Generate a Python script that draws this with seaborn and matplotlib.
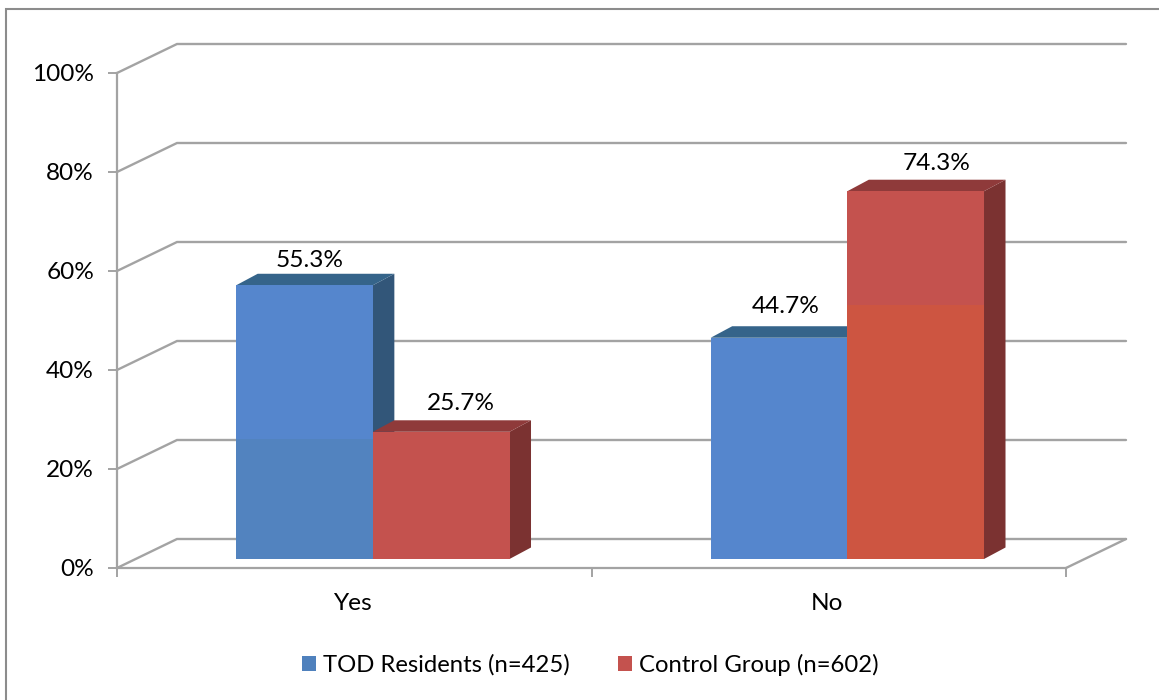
import matplotlib
matplotlib.use('Agg')
import matplotlib.pyplot as plt
from matplotlib.patches import Polygon, Rectangle
import numpy as np
import pandas as pd
import seaborn as sns

categories = ['Yes', 'No']
tod_values = [55.3, 44.7]
control_values = [25.7, 74.3]
series_names = ['TOD Residents (n=425)', 'Control Group (n=602)']
y_ticks = [0, 20, 40, 60, 80, 100]

W, H = 1159, 700
LEFT, RIGHT, TOP, BOTTOM = 117, 1066, 73, 568
BLUE, RED = '#5586cd', '#c4524e'
BLUE_TOP, RED_TOP = '#35648a', '#8f3a3a'
BLUE_SIDE, RED_SIDE = '#325679', '#7b3231'
GRID = '#a3a3a3'
FONT_SIZE = 17.6

sns.set_theme(style='white')
plt.rcParams['font.family'] = ['Lato', 'DejaVu Sans']

df = pd.DataFrame({
    'answer': categories * 2,
    'share': tod_values + control_values,
    'group': [series_names[0]] * 2 + [series_names[1]] * 2,
})

fig = plt.figure(figsize=(W / 100, H / 100), dpi=100)
ax = fig.add_axes([LEFT / W, 1 - BOTTOM / H, (RIGHT - LEFT) / W, (BOTTOM - TOP) / H])
sns.barplot(data=df, x='answer', y='share', hue='group', order=categories,
            hue_order=series_names, palette=[BLUE, RED], width=0.576, gap=0,
            saturation=1, ax=ax, legend=False, zorder=3)
ax.set_xlim(-0.5, 1.5)
ax.set_ylim(0, 100)
ax.set_xlabel('')
ax.set_ylabel('')
ax.patch.set_alpha(0)
for s in ['top', 'right']:
    ax.spines[s].set_visible(False)
for s in ['left', 'bottom']:
    ax.spines[s].set_color(GRID)
    ax.spines[s].set_linewidth(1.6)
ax.set_yticks(y_ticks)
ax.set_yticklabels([f'{t}%' for t in y_ticks], fontsize=FONT_SIZE, color='black')
ax.set_xticks([-0.5, 0.5, 1.5], minor=False)
ax.set_xticklabels(['', '', ''])
ax.tick_params(axis='both', length=6.5, width=1.4, color=GRID, left=True, bottom=True, pad=10)
ax.tick_params(axis='x', direction='out')

# depth of the fake 3D box, in data units
px_x = 2 / (RIGHT - LEFT)
px_y = 100 / (BOTTOM - TOP)
wall_dx, wall_dy = 60 * px_x, 29 * px_y
bar_dx, bar_dy = 18.6 * px_x, 9 * px_y
depth_dx, depth_dy = 21.5 * px_x, 11.5 * px_y

for i, name in enumerate(categories):
    ax.text(i - 0.003, -7.1, name, ha='center', va='center', fontsize=FONT_SIZE, color='black')

# back wall, side wall and floor
for t in y_ticks:
    ax.plot([-0.5, -0.5 + wall_dx, 1.5 + wall_dx], [t, t + wall_dy, t + wall_dy],
            color=GRID, lw=1.7, clip_on=False, zorder=1, solid_joinstyle='miter')
ax.plot([1.5, 1.5 + wall_dx], [0, wall_dy], color=GRID, lw=1.7, clip_on=False, zorder=1)

values = tod_values + control_values
sides = [BLUE_SIDE] * 2 + [RED_SIDE] * 2
tops = [BLUE_TOP] * 2 + [RED_TOP] * 2
label_nudge_x = [-6, -4, 9, 10]
label_nudge_y = [-0.6, 0.6, 0, 0]
bars = sorted(ax.patches, key=lambda b: b.get_x())
bars = [bars[0], bars[2], bars[1], bars[3]]
for bar, val, side, top, nx, ny in zip(bars, values, sides, tops, label_nudge_x, label_nudge_y):
    bar.set_x(bar.get_x() + bar_dx)
    bar.set_y(bar_dy)
    bar.set_edgecolor('none')
    x0, x1 = bar.get_x(), bar.get_x() + bar.get_width()
    y0, y1 = bar_dy, bar_dy + val
    ax.add_patch(Polygon([(x1, y0), (x1 + depth_dx, y0 + depth_dy),
                          (x1 + depth_dx, y1 + depth_dy), (x1, y1)],
                         fc=side, ec='none', zorder=2.5, clip_on=False))
    ax.add_patch(Polygon([(x0, y1), (x0 + depth_dx, y1 + depth_dy),
                          (x1 + depth_dx, y1 + depth_dy), (x1, y1)],
                         fc=top, ec='none', zorder=2.5, clip_on=False))
    ax.text((x0 + x1) / 2 + depth_dx / 2 + nx * px_x, y1 + depth_dy + 3.3 + ny, f'{val}%',
            ha='center', va='center', fontsize=FONT_SIZE, color='black', zorder=5)

# tint seen on the lower part of the two tall bars
ax.add_patch(Rectangle((bars[0].get_x(), bar_dy), bars[0].get_width(), 26.1 - bar_dy,
                       fc='#5283bf', ec='none', zorder=3.5))
ax.add_patch(Rectangle((bars[3].get_x(), bar_dy), bars[3].get_width(), 53.1 - bar_dy,
                       fc='#cd5541', ec='none', zorder=3.5))

# legend and outer frame
handles = [Rectangle((0, 0), 1, 1, fc=c, ec='none') for c in ['#4f81bd', RED]]
fig.legend(handles, series_names, loc='center', bbox_to_anchor=(590.5 / W, 1 - 665 / H),
           ncol=2, frameon=False, fontsize=17.2, handlelength=0.6, handleheight=0.6,
           handletextpad=0.29, columnspacing=2.0, labelcolor='black')
fig.add_artist(Rectangle((6 / W, -0.1), 1.2, 1.1 - 9 / H, transform=fig.transFigure,
                         fc='none', ec='#8c8c8c', lw=1.5))

fig.savefig('out.png', dpi=100)
